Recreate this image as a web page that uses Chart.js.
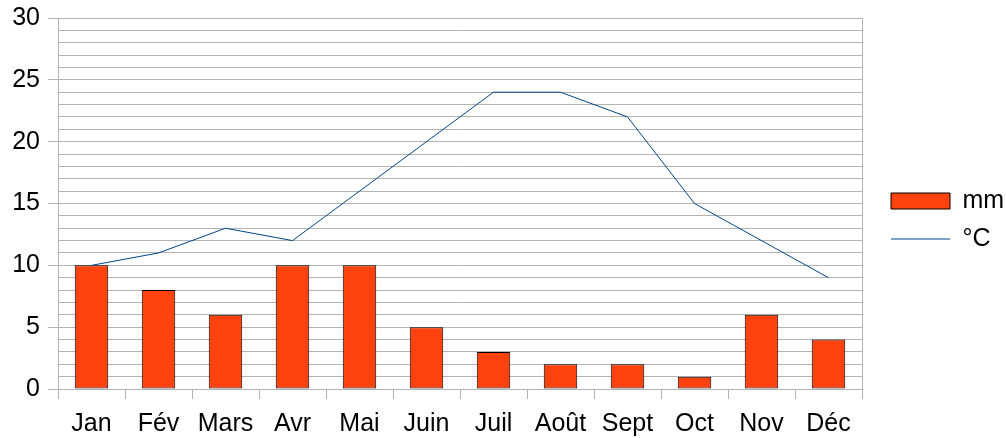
<!DOCTYPE html>
<html>
<head>
<meta charset="utf-8">
<script src="https://cdn.jsdelivr.net/npm/chart.js@4.4.0/dist/chart.umd.min.js"></script>
<style>
html,body{margin:0;padding:0;background:#fff;}
#wrap{width:1006px;height:438px;}
</style>
</head>
<body>
<div id="wrap"><canvas id="c" width="1006" height="438"></canvas></div>
<script>
const categories = ['Jan','Fév','Mars','Avr','Mai','Juin','Juil','Août','Sept','Oct','Nov','Déc'];
const rainMm = [10, 8, 6, 10, 10, 5, 3, 2, 2, 1, 6, 4];
const tempC = [10, 11, 13, 12, 16, 20, 24, 24, 22, 15, 12, 9];
const seriesNames = ['mm', '°C'];
const yMin = 0, yMax = 30, yStep = 1, yLabelEvery = 5;

const FONT = "'Liberation Sans', Arial, sans-serif";
const FS = 25;
const GRID = '#b3b3b3';

new Chart(document.getElementById('c'), {
  type: 'bar',
  data: {
    labels: categories,
    datasets: [
      {
        type: 'bar', label: seriesNames[0], data: rainMm,
        backgroundColor: '#ff420e', borderColor: '#000000', borderWidth: 1,
        borderSkipped: false,
        barPercentage: 0.5, categoryPercentage: 1.0, order: 2
      },
      {
        type: 'line', label: seriesNames[1], data: tempC,
        borderColor: '#004586', backgroundColor: '#004586', borderWidth: 1,
        pointRadius: 0, tension: 0, fill: false, order: 1
      }
    ]
  },
  options: {
    responsive: false,
    animation: false,
    devicePixelRatio: 1,
    layout: { padding: { top: 18, right: 0, bottom: 0, left: 0 } },
    plugins: {
      tooltip: { enabled: false },
      legend: {
        position: 'right',
        align: 'center',
        fullSize: false,
        maxWidth: 128,
        title: { display: true, text: '', font: { size: 10, lineHeight: 1 }, padding: { top: 23, bottom: 0 } },
        labels: {
          font: { family: FONT, size: FS },
          color: '#000',
          usePointStyle: true,
          pointStyleWidth: 59,
          boxHeight: 16,
          padding: 13,
          generateLabels: (chart) => chart.data.datasets.map((ds, i) => ({
            text: ds.label,
            fillStyle: i === 0 ? '#ff420e' : '#004586',
            strokeStyle: i === 0 ? '#000000' : '#004586',
            lineWidth: 1,
            pointStyle: i === 0 ? 'rect' : 'line',
            fontColor: '#000',
            hidden: false,
            datasetIndex: i
          }))
        }
      }
    },
    scales: {
      x: {
        offset: true,
        grid: {
          offset: true,
          drawOnChartArea: true,
          color: (ctx) => (ctx.index === undefined ? GRID : 'rgba(0,0,0,0)'),
          tickColor: GRID,
          tickLength: 10
        },
        border: { display: true, color: GRID },
        ticks: { font: { family: FONT, size: FS }, color: '#000', padding: 10, maxRotation: 0, autoSkip: false },
        afterFit: (s) => { s.height = 49; s.paddingLeft = 0; s.paddingRight = 0; }
      },
      y: {
        min: yMin, max: yMax,
        grid: {
          color: GRID,
          tickColor: (ctx) => (ctx.tick && ctx.tick.value % yLabelEvery === 0 ? GRID : 'rgba(0,0,0,0)'),
          tickLength: 10
        },
        border: { display: true, color: GRID },
        ticks: {
          stepSize: yStep, autoSkip: false,
          font: { family: FONT, size: FS }, color: '#000', padding: 8,
          callback: (v) => (v % yLabelEvery === 0 ? String(v) : '')
        },
        afterFit: (s) => { s.width = 58; s.paddingTop = 0; s.paddingBottom = 0; }
      },
      yRight: {
        position: 'right',
        display: true,
        grid: { drawOnChartArea: false, drawTicks: false },
        border: { display: true, color: GRID },
        ticks: { display: false },
        afterFit: (s) => { s.width = 16; s.paddingTop = 0; s.paddingBottom = 0; }
      }
    }
  }
});
</script>
</body>
</html>
